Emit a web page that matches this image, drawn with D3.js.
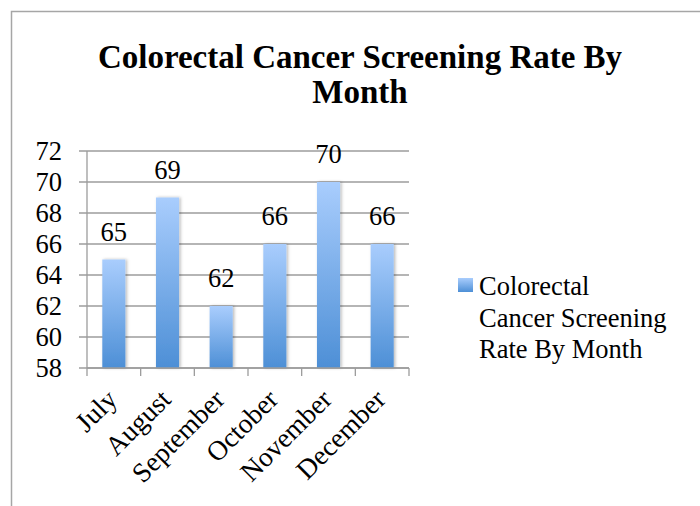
<!DOCTYPE html>
<html>
<head>
<meta charset="utf-8">
<script src="https://cdn.jsdelivr.net/npm/d3@7"></script>
<style>
  html, body { margin: 0; padding: 0; background: #fff; }
  svg { display: block; }
  text { font-family: "Liberation Serif", "Times New Roman", serif; fill: #000; }
</style>
</head>
<body>
<script>
const months = ["July", "August", "September", "October", "November", "December"];
const rates = [65, 69, 62, 66, 70, 66];
const yTicks = [58, 60, 62, 64, 66, 68, 70, 72];
const titleLines = ["Colorectal Cancer Screening Rate By", "Month"];
const legendLines = ["Colorectal", "Cancer Screening", "Rate By Month"];

(function () {
const W = 700, H = 506;
const svg = d3.select("body").append("svg").attr("width", W).attr("height", H);

const defs = svg.append("defs");
const grad = defs.append("linearGradient").attr("id", "barGrad")
  .attr("x1", 0).attr("y1", 0).attr("x2", 0).attr("y2", 1);
grad.append("stop").attr("offset", "0%").attr("stop-color", "#a9cdfd");
grad.append("stop").attr("offset", "100%").attr("stop-color", "#4d8fd6");
const gradL = defs.append("linearGradient").attr("id", "legGrad")
  .attr("x1", 0).attr("y1", 0).attr("x2", 0).attr("y2", 1);
gradL.append("stop").attr("offset", "0%").attr("stop-color", "#a9cdfd");
gradL.append("stop").attr("offset", "100%").attr("stop-color", "#4d8fd6");
const shadow = defs.append("filter").attr("id", "shadow")
  .attr("x", "-30%").attr("y", "-10%").attr("width", "160%").attr("height", "120%");
shadow.append("feDropShadow").attr("dx", 1.5).attr("dy", 0).attr("stdDeviation", 1.6)
  .attr("flood-color", "#000").attr("flood-opacity", 0.28);

// outer chart border (top and left visible)
svg.append("path")
  .attr("d", "M11.5," + H + " V11.5 H" + W)
  .attr("fill", "none").attr("stroke", "#a6a6a6").attr("stroke-width", 1.5);

// title
svg.append("g").selectAll("text").data(titleLines).join("text")
  .attr("x", 360).attr("y", (d, i) => 68 + i * 35)
  .attr("text-anchor", "middle")
  .attr("font-weight", "bold")
  .attr("font-size", 33)
  .text(d => d);

const pL = 87, pR = 409, pT = 151, pB = 368;
const x = d3.scaleBand().domain(months).range([pL, pR]).paddingInner(0.57).paddingOuter(0.285);
const xCat = d3.scaleBand().domain(months).range([pL, pR]);
const y = d3.scaleLinear().domain([58, 72]).range([pB, pT]);

// gridlines
svg.append("g").selectAll("line").data(yTicks).join("line")
  .attr("x1", pL - 8).attr("x2", pR)
  .attr("y1", d => y(d)).attr("y2", d => y(d))
  .attr("stroke", "#9c9c9c").attr("stroke-width", 1.3);

// y axis line
svg.append("line").attr("x1", pL).attr("x2", pL).attr("y1", pT).attr("y2", pB)
  .attr("stroke", "#9c9c9c").attr("stroke-width", 1.3);

// y labels
svg.append("g").selectAll("text").data(yTicks).join("text")
  .attr("x", 62).attr("y", d => y(d)).attr("dy", "0.33em")
  .attr("text-anchor", "end").attr("font-size", 26.5)
  .text(d => d);

// x ticks at category boundaries
const bounds = months.map(m => xCat(m)).concat([pR]);
svg.append("g").selectAll("line").data(bounds).join("line")
  .attr("x1", d => d).attr("x2", d => d).attr("y1", pB).attr("y2", pB + 8)
  .attr("stroke", "#9c9c9c").attr("stroke-width", 1.3);

// bars
svg.append("g").selectAll("rect").data(rates).join("rect")
  .attr("x", (d, i) => x(months[i]))
  .attr("width", x.bandwidth())
  .attr("y", d => y(d))
  .attr("height", d => pB - y(d))
  .attr("fill", "url(#barGrad)")
  .attr("filter", "url(#shadow)");

// x axis line on top of bars
svg.append("line").attr("x1", pL).attr("x2", pR).attr("y1", pB).attr("y2", pB)
  .attr("stroke", "#9c9c9c").attr("stroke-width", 1.3);

// data labels
svg.append("g").selectAll("text").data(rates).join("text")
  .attr("x", (d, i) => x(months[i]) + x.bandwidth() / 2)
  .attr("y", d => y(d) - 19)
  .attr("text-anchor", "middle").attr("font-size", 26.5)
  .text(d => d);

// x labels rotated
svg.append("g").selectAll("text").data(months).join("text")
  .attr("transform", m => "translate(" + (xCat(m) + xCat.bandwidth() / 2 + 5) + "," + 401 + ") rotate(-45)")
  .attr("text-anchor", "end").attr("font-size", 27.5)
  .text(d => d);

// legend
svg.append("rect").attr("x", 458).attr("y", 278).attr("width", 15).attr("height", 14)
  .attr("fill", "url(#legGrad)");
svg.append("g").selectAll("text").data(legendLines).join("text")
  .attr("x", 479).attr("y", (d, i) => 295 + i * 31.5)
  .attr("font-size", 26.5)
  .text(d => d);
})();
</script>
</body>
</html>
